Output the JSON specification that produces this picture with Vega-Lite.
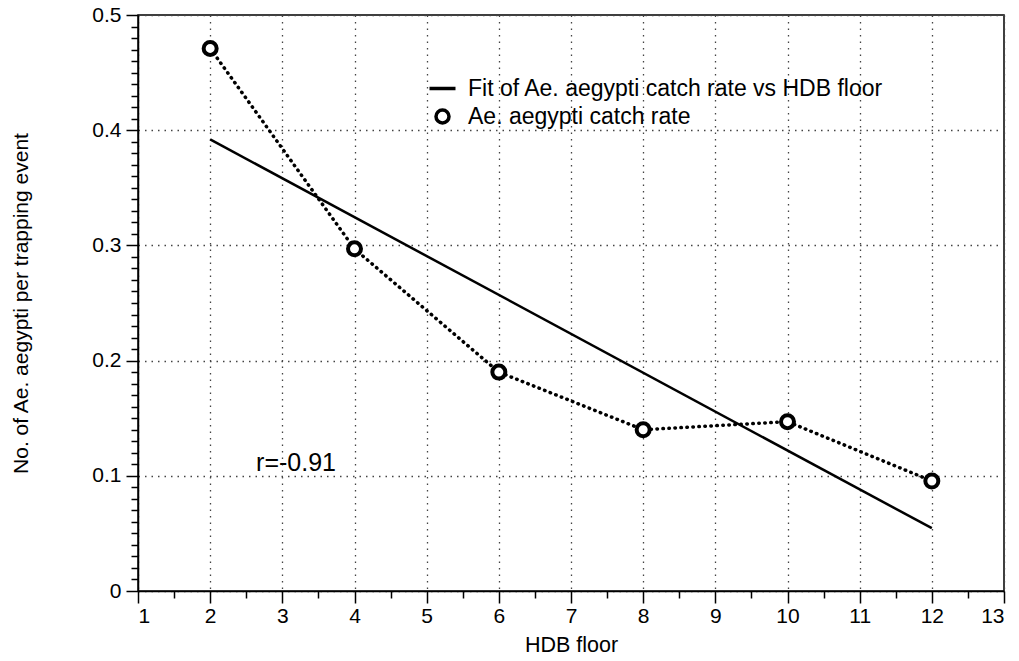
{
  "$schema": "https://vega.github.io/schema/vega-lite/v6.json",
  "autosize": {"type": "none"},
  "padding": {"left": 138, "top": 15, "right": 15, "bottom": 70},
  "width": 866,
  "height": 576,
  "background": "white",
  "config": {
    "font": "Liberation Sans",
    "view": {"stroke": "black", "strokeWidth": 1.5},
    "axis": {"labelColor": "black", "titleColor": "black", "titleFontWeight": "normal", "labelFont": "Liberation Sans", "titleFont": "Liberation Sans"}
  },
  "datasets": {
    "obs": [
      {"floor": 2, "rate": 0.471, "series": "Ae. aegypti catch rate"},
      {"floor": 4, "rate": 0.297, "series": "Ae. aegypti catch rate"},
      {"floor": 6, "rate": 0.19, "series": "Ae. aegypti catch rate"},
      {"floor": 8, "rate": 0.14, "series": "Ae. aegypti catch rate"},
      {"floor": 10, "rate": 0.147, "series": "Ae. aegypti catch rate"},
      {"floor": 12, "rate": 0.0955, "series": "Ae. aegypti catch rate"}
    ],
    "fit": [
      {"floor": 2, "rate": 0.392},
      {"floor": 12, "rate": 0.0545}
    ],
    "note": [
      {"floor": 3.19, "rate": 0.111, "label": "r=-0.91"}
    ]
  },
  "resolve": {"axis": {"x": "independent", "y": "independent"}},
  "layer": [
    {
      "data": {"name": "fit"},
      "mark": {"type": "line", "color": "black", "strokeWidth": 2.5},
      "encoding": {
        "x": {
          "field": "floor", "type": "quantitative",
          "scale": {"domain": [1, 13], "nice": false, "zero": false},
          "axis": {
            "orient": "bottom",
            "values": [1, 2, 3, 4, 5, 6, 7, 8, 9, 10, 11, 12, 13],
            "tickSize": 12, "tickWidth": 1.5, "tickColor": "black",
            "domainColor": "black", "domainWidth": 1.5,
            "labelFontSize": 21, "labelPadding": 2,
            "grid": true, "gridDash": [1.5, 5], "gridColor": "#444", "gridWidth": 1.3,
            "title": "HDB floor", "titleFontSize": 21.5, "titlePadding": 8
          }
        },
        "y": {
          "field": "rate", "type": "quantitative",
          "scale": {"domain": [0, 0.5], "nice": false},
          "axis": {
            "orient": "left",
            "values": [0, 0.1, 0.2, 0.3, 0.4, 0.5],
            "format": "~g",
            "tickSize": 12, "tickWidth": 1.5, "tickColor": "black",
            "domainColor": "black", "domainWidth": 1.5,
            "labelFontSize": 21, "labelPadding": 5,
            "grid": true, "gridDash": [1.5, 5], "gridColor": "#444", "gridWidth": 1.3,
            "title": "No. of Ae. aegypti per trapping event", "titleFontSize": 21, "titlePadding": 60
          }
        }
      }
    },
    {
      "data": {"name": "obs"},
      "mark": {"type": "line", "color": "black", "strokeWidth": 3.5, "strokeDash": [0.5, 5.5], "strokeCap": "round"},
      "encoding": {
        "x": {
          "field": "floor", "type": "quantitative",
          "axis": {
            "orient": "bottom",
            "values": [1.5, 2.5, 3.5, 4.5, 5.5, 6.5, 7.5, 8.5, 9.5, 10.5, 11.5, 12.5],
            "tickSize": 7, "tickWidth": 1.5, "tickColor": "black",
            "domain": false, "labels": false, "grid": false, "title": null
          }
        },
        "y": {
          "field": "rate", "type": "quantitative",
          "axis": {
            "orient": "left",
            "values": [0.01, 0.02, 0.03, 0.04, 0.05, 0.06, 0.07, 0.08, 0.09, 0.11, 0.12, 0.13, 0.14, 0.15, 0.16, 0.17, 0.18, 0.19, 0.21, 0.22, 0.23, 0.24, 0.25, 0.26, 0.27, 0.28, 0.29, 0.31, 0.32, 0.33, 0.34, 0.35, 0.36, 0.37, 0.38, 0.39, 0.41, 0.42, 0.43, 0.44, 0.45, 0.46, 0.47, 0.48, 0.49],
            "tickSize": 7, "tickWidth": 1.5, "tickColor": "black",
            "domain": false, "labels": false, "grid": false, "title": null
          }
        }
      }
    },
    {
      "data": {"name": "obs"},
      "mark": {"type": "point", "filled": true, "color": "white", "size": 169, "opacity": 1},
      "encoding": {
        "x": {"field": "floor", "type": "quantitative", "axis": null},
        "y": {"field": "rate", "type": "quantitative", "axis": null}
      }
    },
    {
      "data": {"name": "obs"},
      "mark": {"type": "point", "filled": false, "color": "black", "strokeWidth": 4, "size": 169, "opacity": 1},
      "encoding": {
        "x": {"field": "floor", "type": "quantitative", "axis": null},
        "y": {"field": "rate", "type": "quantitative", "axis": null},
        "shape": {
          "field": "series", "type": "nominal",
          "scale": {"domain": ["Fit of Ae. aegypti catch rate vs HDB floor", "Ae. aegypti catch rate"], "range": ["M-2,0H2", "circle"]},
          "legend": {
            "title": null, "orient": "none", "legendX": 293, "legendY": 62,
            "labelFontSize": 23, "labelColor": "black", "labelOffset": 14, "labelLimit": 0,
            "symbolSize": 169, "symbolStrokeWidth": 3.5,
            "rowPadding": 2
          }
        }
      }
    },
    {
      "data": {"name": "note"},
      "mark": {"type": "text", "fontSize": 25, "color": "black", "align": "center", "baseline": "middle"},
      "encoding": {
        "x": {"field": "floor", "type": "quantitative", "axis": null},
        "y": {"field": "rate", "type": "quantitative", "axis": null},
        "text": {"field": "label"}
      }
    }
  ]
}
